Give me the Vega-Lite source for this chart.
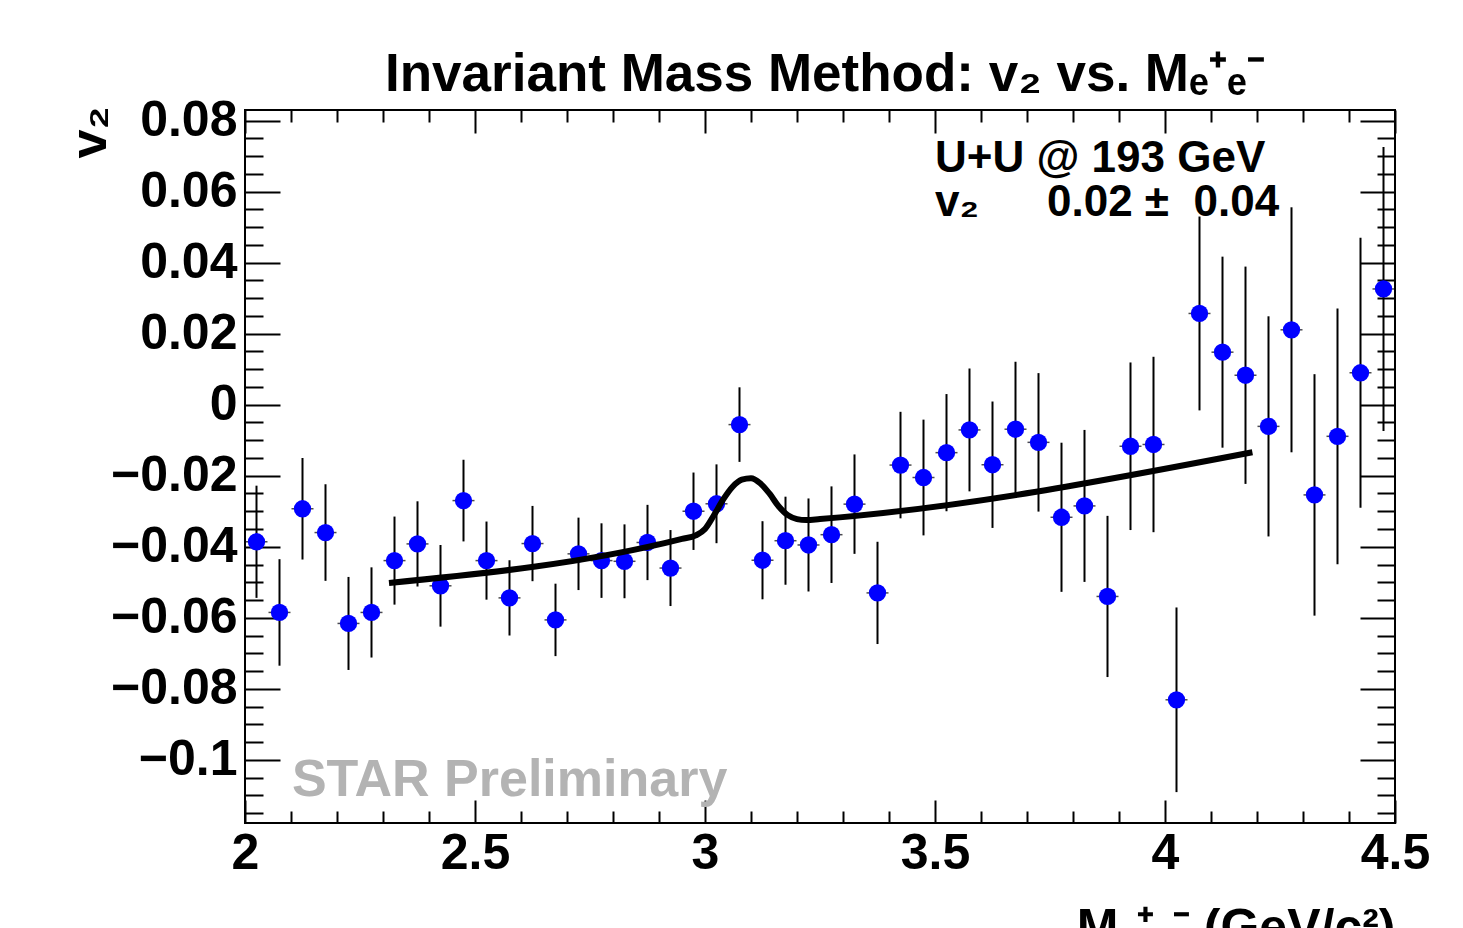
{
  "$schema": "https://vega.github.io/schema/vega-lite/v6.json",
  "width": 1150,
  "height": 713,
  "autosize": {"type": "none"},
  "padding": {"left": 245, "top": 110, "right": 68, "bottom": 105},
  "background": "white",
  "config": {
    "font": "Liberation Sans",
    "view": {"stroke": "black", "strokeWidth": 2},
    "axis": {
      "domain": false,
      "grid": false,
      "labelFont": "Liberation Sans",
      "labelFontWeight": "bold",
      "labelFontSize": 50,
      "labelColor": "black",
      "tickColor": "black",
      "tickWidth": 2,
      "titleFont": "Liberation Sans",
      "titleFontWeight": "bold",
      "titleColor": "black"
    }
  },
  "title": {
    "text": "Invariant Mass Method: v₂ vs. Mₑ⁺ₑ⁻",
    "anchor": "start",
    "frame": "group",
    "dx": 140,
    "offset": -48,
    "baseline": "alphabetic",
    "font": "Liberation Sans",
    "fontSize": 53,
    "fontWeight": "bold",
    "color": "black"
  },
  "datasets": {
    "points": [
      {"x": 2.025, "v2": -0.0386, "err": 0.0158},
      {"x": 2.075, "v2": -0.0585, "err": 0.0150},
      {"x": 2.125, "v2": -0.0293, "err": 0.0143},
      {"x": 2.175, "v2": -0.0360, "err": 0.0136},
      {"x": 2.225, "v2": -0.0616, "err": 0.0131},
      {"x": 2.275, "v2": -0.0585, "err": 0.0127},
      {"x": 2.325, "v2": -0.0439, "err": 0.0124},
      {"x": 2.375, "v2": -0.0392, "err": 0.0120},
      {"x": 2.425, "v2": -0.0510, "err": 0.0115},
      {"x": 2.475, "v2": -0.0270, "err": 0.0115},
      {"x": 2.525, "v2": -0.0439, "err": 0.0110},
      {"x": 2.575, "v2": -0.0544, "err": 0.0106},
      {"x": 2.625, "v2": -0.0391, "err": 0.0106},
      {"x": 2.675, "v2": -0.0606, "err": 0.0102},
      {"x": 2.725, "v2": -0.0420, "err": 0.0102},
      {"x": 2.775, "v2": -0.0439, "err": 0.0105},
      {"x": 2.825, "v2": -0.0441, "err": 0.0104},
      {"x": 2.875, "v2": -0.0388, "err": 0.0106},
      {"x": 2.925, "v2": -0.0460, "err": 0.0107},
      {"x": 2.975, "v2": -0.0300, "err": 0.0109},
      {"x": 3.025, "v2": -0.0279, "err": 0.0111},
      {"x": 3.075, "v2": -0.0056, "err": 0.0105},
      {"x": 3.125, "v2": -0.0438, "err": 0.0110},
      {"x": 3.175, "v2": -0.0383, "err": 0.0124},
      {"x": 3.225, "v2": -0.0395, "err": 0.0131},
      {"x": 3.275, "v2": -0.0366, "err": 0.0136},
      {"x": 3.325, "v2": -0.0280, "err": 0.0140},
      {"x": 3.375, "v2": -0.0530, "err": 0.0144},
      {"x": 3.425, "v2": -0.0170, "err": 0.0150},
      {"x": 3.475, "v2": -0.0205, "err": 0.0163},
      {"x": 3.525, "v2": -0.0135, "err": 0.0165},
      {"x": 3.575, "v2": -0.0071, "err": 0.0173},
      {"x": 3.625, "v2": -0.0169, "err": 0.0178},
      {"x": 3.675, "v2": -0.0069, "err": 0.0190},
      {"x": 3.725, "v2": -0.0106, "err": 0.0195},
      {"x": 3.775, "v2": -0.0317, "err": 0.0210},
      {"x": 3.825, "v2": -0.0285, "err": 0.0214},
      {"x": 3.875, "v2": -0.0540, "err": 0.0227},
      {"x": 3.925, "v2": -0.0117, "err": 0.0236},
      {"x": 3.975, "v2": -0.0112, "err": 0.0247},
      {"x": 4.025, "v2": -0.0831, "err": 0.0260},
      {"x": 4.075, "v2": 0.0257, "err": 0.0273},
      {"x": 4.125, "v2": 0.0148, "err": 0.0269},
      {"x": 4.175, "v2": 0.0083, "err": 0.0306},
      {"x": 4.225, "v2": -0.0061, "err": 0.0310},
      {"x": 4.275, "v2": 0.0211, "err": 0.0345},
      {"x": 4.325, "v2": -0.0254, "err": 0.0340},
      {"x": 4.375, "v2": -0.0089, "err": 0.0360},
      {"x": 4.425, "v2": 0.0090, "err": 0.0380},
      {"x": 4.475, "v2": 0.0326, "err": 0.0400}
    ],
    "fit": [
      {"x": 2.313, "v2": -0.0502},
      {"x": 2.95, "v2": -0.0378},
      {"x": 2.98, "v2": -0.0368},
      {"x": 3.0, "v2": -0.0350},
      {"x": 3.02, "v2": -0.0310},
      {"x": 3.04, "v2": -0.0266},
      {"x": 3.06, "v2": -0.0231},
      {"x": 3.08, "v2": -0.0211},
      {"x": 3.1, "v2": -0.0207},
      {"x": 3.12, "v2": -0.0221},
      {"x": 3.14, "v2": -0.0250},
      {"x": 3.16, "v2": -0.0286},
      {"x": 3.18, "v2": -0.0311},
      {"x": 3.2, "v2": -0.0322},
      {"x": 3.22, "v2": -0.0325},
      {"x": 3.25, "v2": -0.0322},
      {"x": 4.19, "v2": -0.0134}
    ]
  },
  "resolve": {
    "scale": {"x": "independent", "y": "independent"},
    "axis": {"x": "independent", "y": "independent"}
  },
  "layer": [
    {
      "data": {"name": "points"},
      "mark": {"type": "errorbar", "color": "black", "thickness": 2},
      "encoding": {
        "x": {
          "field": "x", "type": "quantitative",
          "scale": {"domain": [2, 4.5], "nice": false, "zero": false},
          "axis": {
            "orient": "bottom", "ticks": false, "labels": true,
            "values": [2, 2.5, 3, 3.5, 4, 4.5], "format": "~g",
            "labelPadding": 5, "labelBaseline": "top", "labelFlush": false,
            "title": "Mₑ⁺ₑ⁻ (GeV/c²)", "titleFontSize": 50,
            "titleAlign": "right", "titleAnchor": "end", "titleBaseline": "alphabetic",
            "titleX": 1150, "titleY": 120
          }
        },
        "y": {
          "field": "v2", "type": "quantitative",
          "scale": {"domain": [-0.1178, 0.083], "nice": false, "zero": false},
          "axis": {
            "orient": "left", "ticks": false, "labels": true,
            "values": [-0.1, -0.08, -0.06, -0.04, -0.02, 0, 0.02, 0.04, 0.06, 0.08],
            "labelExpr": "datum.value == 0 ? '0' : format(datum.value, '.2~f')",
            "labelPadding": 8, "labelFlush": false,
            "title": "v₂", "titleFontSize": 52, "titleAngle": 270,
            "titleAlign": "left", "titleBaseline": "alphabetic",
            "titleX": -140, "titleY": 48
          }
        },
        "yError": {"field": "err"}
      }
    },
    {
      "data": {"name": "points"},
      "mark": {"type": "tick", "orient": "horizontal", "size": 22, "thickness": 1.5, "color": "black"},
      "encoding": {
        "x": {
          "field": "x", "type": "quantitative",
          "scale": {"domain": [2, 4.5], "nice": false, "zero": false},
          "axis": {"orient": "bottom", "labels": false, "title": null, "tickSize": -23,
                   "values": [2, 2.5, 3, 3.5, 4, 4.5]}
        },
        "y": {
          "field": "v2", "type": "quantitative",
          "scale": {"domain": [-0.1178, 0.083], "nice": false, "zero": false},
          "axis": {"orient": "left", "labels": false, "title": null, "tickSize": -35,
                   "values": [-0.1, -0.08, -0.06, -0.04, -0.02, 0, 0.02, 0.04, 0.06, 0.08]}
        }
      }
    },
    {
      "data": {"name": "points"},
      "mark": {"type": "circle", "size": 300, "color": "#0000ff", "opacity": 1},
      "encoding": {
        "x": {
          "field": "x", "type": "quantitative",
          "scale": {"domain": [2, 4.5], "nice": false, "zero": false},
          "axis": {"orient": "bottom", "labels": false, "title": null, "tickSize": -12,
                   "values": [2.1, 2.2, 2.3, 2.4, 2.6, 2.7, 2.8, 2.9, 3.1, 3.2, 3.3, 3.4, 3.6, 3.7, 3.8, 3.9, 4.1, 4.2, 4.3, 4.4]}
        },
        "y": {
          "field": "v2", "type": "quantitative",
          "scale": {"domain": [-0.1178, 0.083], "nice": false, "zero": false},
          "axis": {"orient": "left", "labels": false, "title": null, "tickSize": -18,
                   "values": [-0.115, -0.11, -0.105, -0.095, -0.09, -0.085, -0.075, -0.07, -0.065, -0.055, -0.05, -0.045, -0.035, -0.03, -0.025, -0.015, -0.01, -0.005, 0.005, 0.01, 0.015, 0.025, 0.03, 0.035, 0.045, 0.05, 0.055, 0.065, 0.07, 0.075]}
        }
      }
    },
    {
      "data": {"name": "fit"},
      "mark": {"type": "line", "color": "black", "strokeWidth": 6, "interpolate": "monotone"},
      "encoding": {
        "x": {
          "field": "x", "type": "quantitative",
          "scale": {"domain": [2, 4.5], "nice": false, "zero": false},
          "axis": {"orient": "top", "labels": false, "title": null, "tickSize": -23,
                   "values": [2, 2.5, 3, 3.5, 4, 4.5]}
        },
        "y": {
          "field": "v2", "type": "quantitative",
          "scale": {"domain": [-0.1178, 0.083], "nice": false, "zero": false},
          "axis": {"orient": "right", "labels": false, "title": null, "tickSize": -35,
                   "values": [-0.1, -0.08, -0.06, -0.04, -0.02, 0, 0.02, 0.04, 0.06, 0.08]}
        }
      }
    },
    {
      "data": {"values": [{}]},
      "mark": {"type": "text", "text": "STAR Preliminary", "font": "Liberation Sans", "fontWeight": "bold", "fontSize": 52, "color": "#b3b3b3", "align": "left", "baseline": "alphabetic"},
      "encoding": {
        "x": {
          "datum": 2.102, "type": "quantitative",
          "scale": {"domain": [2, 4.5], "nice": false, "zero": false},
          "axis": {"orient": "top", "labels": false, "title": null, "tickSize": -12,
                   "values": [2.1, 2.2, 2.3, 2.4, 2.6, 2.7, 2.8, 2.9, 3.1, 3.2, 3.3, 3.4, 3.6, 3.7, 3.8, 3.9, 4.1, 4.2, 4.3, 4.4]}
        },
        "y": {
          "datum": -0.1101, "type": "quantitative",
          "scale": {"domain": [-0.1178, 0.083], "nice": false, "zero": false},
          "axis": {"orient": "right", "labels": false, "title": null, "tickSize": -18,
                   "values": [-0.115, -0.11, -0.105, -0.095, -0.09, -0.085, -0.075, -0.07, -0.065, -0.055, -0.05, -0.045, -0.035, -0.03, -0.025, -0.015, -0.01, -0.005, 0.005, 0.01, 0.015, 0.025, 0.03, 0.035, 0.045, 0.05, 0.055, 0.065, 0.07, 0.075]}
        }
      }
    },
    {
      "data": {"values": [{}]},
      "mark": {"type": "text", "text": "U+U @ 193 GeV", "font": "Liberation Sans", "fontWeight": "bold", "fontSize": 44, "color": "black", "align": "left", "baseline": "alphabetic"},
      "encoding": {
        "x": {"datum": 3.5, "type": "quantitative", "scale": {"domain": [2, 4.5], "nice": false, "zero": false}, "axis": null},
        "y": {"datum": 0.0654, "type": "quantitative", "scale": {"domain": [-0.1178, 0.083], "nice": false, "zero": false}, "axis": null}
      }
    },
    {
      "data": {"values": [{}]},
      "mark": {"type": "text", "text": "v₂", "font": "Liberation Sans", "fontWeight": "bold", "fontSize": 44, "color": "black", "align": "left", "baseline": "alphabetic"},
      "encoding": {
        "x": {"datum": 3.5, "type": "quantitative", "scale": {"domain": [2, 4.5], "nice": false, "zero": false}, "axis": null},
        "y": {"datum": 0.0532, "type": "quantitative", "scale": {"domain": [-0.1178, 0.083], "nice": false, "zero": false}, "axis": null}
      }
    },
    {
      "data": {"values": [{}]},
      "mark": {"type": "text", "text": "0.02 ± \u00a00.04", "font": "Liberation Sans", "fontWeight": "bold", "fontSize": 44, "color": "black", "align": "left", "baseline": "alphabetic"},
      "encoding": {
        "x": {"datum": 3.7435, "type": "quantitative", "scale": {"domain": [2, 4.5], "nice": false, "zero": false}, "axis": null},
        "y": {"datum": 0.0532, "type": "quantitative", "scale": {"domain": [-0.1178, 0.083], "nice": false, "zero": false}, "axis": null}
      }
    }
  ]
}
